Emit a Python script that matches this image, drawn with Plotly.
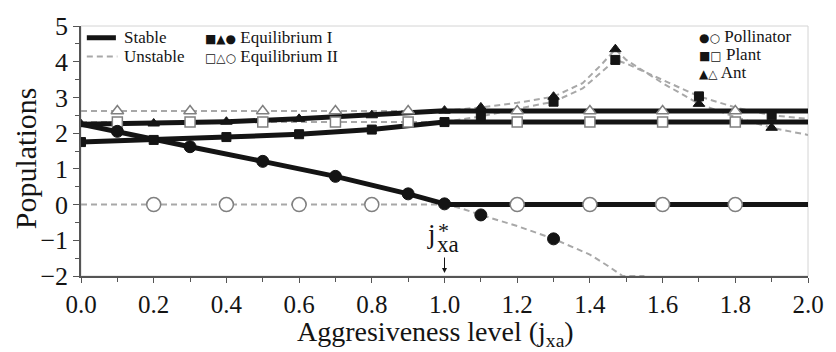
import plotly.graph_objects as go

# ---------------- data ----------------
# Equilibrium I, stable branch (j_xa < 1)
x_eq1_stable = [0.0, 0.2, 0.4, 0.6, 0.8, 1.0]
ant_eq1_stable = [2.25, 2.27, 2.32, 2.40, 2.50, 2.63]
plant_eq1_stable = [1.75, 1.81, 1.89, 1.97, 2.10, 2.31]
x_poll_eq1_stable = [0.0, 0.1, 0.3, 0.5, 0.7, 0.9, 1.0]
poll_eq1_stable = [2.25, 2.05, 1.62, 1.21, 0.79, 0.30, 0.02]

# Equilibrium I, unstable branch (j_xa > 1)
x_eq1_unst = [1.0, 1.1, 1.2, 1.3, 1.38, 1.43, 1.47, 1.5, 1.6, 1.7, 1.8, 1.9, 2.0]
ant_eq1_unst = [2.63, 2.72, 2.85, 3.02, 3.40, 3.90, 4.35, 4.05, 3.40, 2.82, 2.45, 2.15, 1.95]
plant_eq1_unst = [2.31, 2.47, 2.68, 2.88, 3.25, 3.70, 4.05, 3.95, 3.50, 3.03, 2.72, 2.50, 2.40]
x_eq1_unst_marks = [1.1, 1.3, 1.47, 1.7, 1.9]
ant_eq1_unst_marks = [2.72, 3.02, 4.35, 2.82, 2.15]
plant_eq1_unst_marks = [2.47, 2.88, 4.05, 3.03, 2.50]
x_poll_eq1_unst = [1.0, 1.05, 1.1, 1.2, 1.3, 1.4, 1.45, 1.49, 1.55]
poll_eq1_unst = [0.02, -0.12, -0.29, -0.60, -0.96, -1.40, -1.72, -2.0, -2.0]
x_poll_eq1_unst_marks = [1.1, 1.3]
poll_eq1_unst_marks = [-0.29, -0.96]

# Equilibrium II (unstable for j_xa < 1, stable for j_xa > 1)
x_eq2_unst = [0.0, 1.0]
x_eq2_stable = [1.0, 2.0]
ant_eq2 = 2.62
plant_eq2 = 2.31
poll_eq2 = 0.0
x_eq2_tri_unst = [0.1, 0.3, 0.5, 0.7, 0.9]
x_eq2_circ_unst = [0.2, 0.4, 0.6, 0.8]
x_eq2_marks_stable = [1.2, 1.4, 1.6, 1.8]

x_ticks = [0.0, 0.2, 0.4, 0.6, 0.8, 1.0, 1.2, 1.4, 1.6, 1.8, 2.0]
y_ticks = [-2, -1, 0, 1, 2, 3, 4, 5]

# ---------------- styles ----------------
BLACK = "#141414"
DASH_COL = "#a8a8a8"
OPEN_LINE = "#808080"
SERIF = "Liberation Serif"

stable_line = dict(color=BLACK, width=5)
unst_line = dict(color=DASH_COL, width=2, dash="6px,4px")

fig = go.Figure()

def add_line(x, y, line):
    fig.add_trace(go.Scatter(x=x, y=y, mode="lines", line=line,
                             hoverinfo="skip", showlegend=False))

def add_marks(x, y, symbol, size, filled):
    if filled:
        marker = dict(symbol=symbol, size=size, color=BLACK,
                      line=dict(color=BLACK, width=1))
    else:
        marker = dict(symbol=symbol, size=size, color="white",
                      line=dict(color=OPEN_LINE, width=1.5))
    fig.add_trace(go.Scatter(x=x, y=y, mode="markers", marker=marker,
                             hoverinfo="skip", showlegend=False))

# unstable (dashed) curves first
add_line(x_eq2_unst, [ant_eq2] * len(x_eq2_unst), unst_line)
add_line(x_eq2_unst, [plant_eq2] * len(x_eq2_unst), unst_line)
add_line(x_eq2_unst, [poll_eq2] * len(x_eq2_unst), unst_line)
add_line(x_eq1_unst, ant_eq1_unst, unst_line)
add_line(x_eq1_unst, plant_eq1_unst, unst_line)
add_line(x_poll_eq1_unst, poll_eq1_unst, unst_line)

# stable (thick) curves
add_line(x_eq1_stable, ant_eq1_stable, stable_line)
add_line(x_eq1_stable, plant_eq1_stable, stable_line)
add_line(x_poll_eq1_stable, poll_eq1_stable, stable_line)
add_line(x_eq2_stable, [ant_eq2] * len(x_eq2_stable), stable_line)
add_line(x_eq2_stable, [plant_eq2] * len(x_eq2_stable), stable_line)
add_line(x_eq2_stable, [poll_eq2] * len(x_eq2_stable), stable_line)

# markers: equilibrium II (open)
add_marks(x_eq2_tri_unst, [plant_eq2] * len(x_eq2_tri_unst), "square", 10, False)
add_marks(x_eq2_tri_unst, [ant_eq2] * len(x_eq2_tri_unst), "triangle-up", 11, False)
add_marks(x_eq2_circ_unst, [poll_eq2] * len(x_eq2_circ_unst), "circle", 14, False)
add_marks(x_eq2_marks_stable, [plant_eq2] * len(x_eq2_marks_stable), "square", 10, False)
add_marks(x_eq2_marks_stable, [ant_eq2] * len(x_eq2_marks_stable), "triangle-up", 11, False)
add_marks(x_eq2_marks_stable, [poll_eq2] * len(x_eq2_marks_stable), "circle", 14, False)

# markers: equilibrium I (filled)
add_marks(x_eq1_stable, plant_eq1_stable, "square", 9, True)
add_marks(x_eq1_stable, ant_eq1_stable, "triangle-up", 10, True)
add_marks(x_poll_eq1_stable[1:], poll_eq1_stable[1:], "circle", 12, True)
add_marks(x_eq1_unst_marks, plant_eq1_unst_marks, "square", 9, True)
add_marks(x_eq1_unst_marks, ant_eq1_unst_marks, "triangle-up", 10, True)
add_marks(x_poll_eq1_unst_marks, poll_eq1_unst_marks, "circle", 12, True)

# ---------------- legend-like annotations ----------------
shapes = [
    dict(type="rect", xref="paper", yref="paper", x0=0, x1=1, y0=0, y1=1,
         line=dict(color="#d4d4d4", width=1), layer="below"),
    dict(type="line", xref="paper", yref="paper", x0=0.008, x1=0.048,
         y0=0.953, y1=0.953, line=dict(color=BLACK, width=5)),
    dict(type="line", xref="paper", yref="paper", x0=0.008, x1=0.050,
         y0=0.878, y1=0.878, line=dict(color=DASH_COL, width=2, dash="6px,4px")),
]

def txt(x, y, s, size=17, xanchor="left"):
    return dict(xref="paper", yref="paper", x=x, y=y, text=s, showarrow=False,
                xanchor=xanchor, yanchor="middle",
                font=dict(family=SERIF, size=size, color=BLACK))

sym = lambda s: "<span style='font-family:DejaVu Sans;font-size:12px'>" + s + "</span>"

annotations = [
    txt(0.057, 0.953, "Stable"),
    txt(0.057, 0.878, "Unstable"),
    txt(0.168, 0.953, sym("■▲●") + " Equilibrium I"),
    txt(0.168, 0.878, sym("□△○") + " Equilibrium II"),
    txt(0.847, 0.957, sym("●○") + " Pollinator", 17),
    txt(0.847, 0.885, sym("■□") + " Plant", 17),
    txt(0.847, 0.813, sym("▲△") + " Ant", 17),
    # axis titles
    dict(xref="paper", yref="paper", x=-0.076, y=0.47, text="Populations",
         textangle=-90, showarrow=False, xanchor="center", yanchor="middle",
         font=dict(family=SERIF, size=30, color=BLACK)),
    dict(xref="paper", yref="paper", x=0.487, y=-0.228,
         text="Aggresiveness level (j<sub>xa</sub>)", showarrow=False,
         xanchor="center", yanchor="middle",
         font=dict(family=SERIF, size=28, color=BLACK)),
    # j*_xa marker
    dict(x=1.0, y=-2, xref="x", yref="y", text="", showarrow=True,
         ax=0, ay=-20, arrowhead=2, arrowsize=1, arrowwidth=1,
         arrowcolor=BLACK, standoff=3),
    dict(x=1.0, y=0, xref="x", yref="y", text="j", showarrow=False,
         xshift=-13, yshift=-29, font=dict(family=SERIF, size=27, color=BLACK)),
    dict(x=1.0, y=0, xref="x", yref="y", text="*", showarrow=False,
         xshift=-1, yshift=-26, font=dict(family=SERIF, size=22, color=BLACK)),
    dict(x=1.0, y=0, xref="x", yref="y", text="xa", showarrow=False,
         xshift=3, yshift=-40, font=dict(family=SERIF, size=23, color=BLACK)),
]

fig.update_layout(
    width=836, height=352,
    margin=dict(l=81, r=18, t=21, b=76),
    paper_bgcolor="white", plot_bgcolor="white",
    shapes=shapes, annotations=annotations,
    showlegend=False,
    font=dict(family=SERIF),
)
fig.update_xaxes(
    range=[0, 2.0], tickvals=x_ticks, ticktext=[f"{v:.1f}" for v in x_ticks],
    ticks="outside", ticklen=5, tickwidth=1, tickcolor="#555",
    minor=dict(dtick=0.1, tick0=0, ticks="outside", ticklen=4, tickcolor="#555"),
    showline=True, linecolor="#555", linewidth=1.5,
    showgrid=False, zeroline=False,
    tickfont=dict(family=SERIF, size=25, color=BLACK),
)
fig.update_yaxes(
    range=[-2, 5], tickvals=y_ticks, ticktext=[("−" + str(-v)) if v < 0 else str(v) for v in y_ticks],
    ticks="outside", ticklen=6, tickwidth=1, tickcolor="#555",
    minor=dict(dtick=0.5, tick0=0, ticks="outside", ticklen=4, tickcolor="#555"),
    showline=True, linecolor="#555", linewidth=1.5,
    showgrid=False, zeroline=False,
    tickfont=dict(family=SERIF, size=26, color=BLACK),
)

fig.write_html("out.html")
